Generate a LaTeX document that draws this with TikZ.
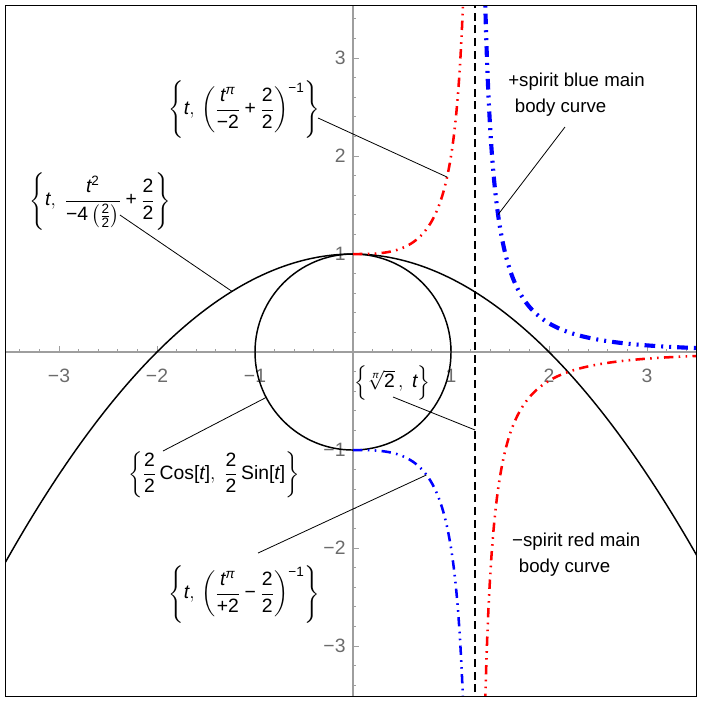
\RequirePackage{fix-cm}
\documentclass[tikz,border=0pt]{standalone}
\usepackage{amsmath}
\usepackage{fontspec}
\setmainfont{Liberation Sans}
\newcommand{\ti}{\text{\itshape t}}
\newcommand{\tpi}{\text{\itshape π}}
\newcommand{\tx}[1]{\text{#1}}
\newcommand{\splus}{\mathbin{\text{+}}}
\newcommand{\sminus}{\mathbin{\text{−}}}
\begin{document}
\begin{tikzpicture}[x=73.5pt,y=73.5pt,
  axisline/.style={draw=black!38, line width=1.1pt},
  tickmark/.style={draw=black!38, line width=0.7pt},
  ticklabel/.style={text=black!58, font=\fontsize{14.5}{17}\selectfont, inner sep=1pt},
  curvelabel/.style={font=\fontsize{14.5}{17}\selectfont, inner sep=0pt},
  spiritlabel/.style={font=\fontsize{14}{19.5}\selectfont, align=left, inner sep=0pt, anchor=west},
  callout/.style={draw=black, line width=0.6pt},
  blackcurve/.style={draw=black, line width=1.1pt},
  redthin/.style={draw=red, line width=1.9pt, dash pattern=on 7pt off 4pt on 1.2pt off 4pt on 1.2pt off 4pt},
  bluethin/.style={draw=blue, line width=1.9pt, dash pattern=on 7pt off 4pt on 1.2pt off 4pt on 1.2pt off 4pt},
  bluethick/.style={draw=blue, line width=3.1pt, dash pattern=on 8pt off 4.5pt on 1.5pt off 4.5pt on 1.5pt off 4.5pt},
  poleline/.style={draw=black, line width=1.3pt, dash pattern=on 6pt off 3.5pt}]
\useasboundingbox (-3.602,-3.571) rectangle (3.561,3.592);
% axes
\draw[axisline] (-3.546,0) -- (3.505,0);
\draw[axisline] (0,-3.515) -- (0,3.536);
\foreach \k in {-3.4,-3.2,...,3.45} {
  \draw[tickmark] (\k,0) -- (\k,0.035);
  \draw[tickmark] (0,\k) -- (0.035,\k);
}
\foreach \k in {-3,-2,-1,1,2,3} {
  \draw[tickmark] (\k,0) -- (\k,0.065);
  \draw[tickmark] (0,\k) -- (0.065,\k);
}
\foreach \k/\s in {-3/−3,-2/−2,-1/−1,1/1,2/2,3/3} {
  \node[ticklabel] (xl\k) at (\k,-0.245) {\s};
  \node[ticklabel, anchor=east] (yl\k) at (-0.06,\k) {\s};
}
% curves
\begin{scope}
\clip (-3.546,-3.515) rectangle (3.505,3.536);
\draw[blackcurve] plot[domain=-3.6:3.6, samples=120, smooth] (\x,{1-(\x)*(\x)/4});
\draw[blackcurve] (0,0) circle (1);
\draw[poleline] (1.2468,-3.6) -- (1.2468,3.6);
\draw[redthin] plot[domain=0.001:1.14, samples=160, smooth] (\x,{1/(1-(\x)^pi/2)});
\draw[redthin] plot[domain=1.33:3.6, samples=260, smooth] (\x,{1/(1-(\x)^pi/2)});
\draw[bluethin] plot[domain=0.001:1.14, samples=160, smooth] (\x,{1/((\x)^pi/2-1)});
\draw[bluethick] plot[domain=1.33:3.6, samples=260, smooth] (\x,{1/((\x)^pi/2-1)});
\end{scope}
% frame
\draw[line width=1.1pt] (-3.546,-3.515) rectangle (3.505,3.536);
% labels
\node[curvelabel] (lred) at (-1.11,2.47) {$\left\{\ti,\,\left(\dfrac{\ti^{\tpi}}{\tx{−2}}\splus\dfrac{\tx{2}}{\tx{2}}\right)^{\tx{−1}}\right\}$};
\node[curvelabel] (lpar) at (-2.58,1.54) {$\left\{\ti,\;\dfrac{\ti^{\tx{2}}}{\tx{−4}\left(\tfrac{\tx{2}}{\tx{2}}\right)}\splus\dfrac{\tx{2}}{\tx{2}}\right\}$};
\node[curvelabel] (lcirc) at (-1.42,-1.25) {$\left\{\dfrac{\tx{2}}{\tx{2}}\,\tx{Cos[}\ti\tx{]},\;\dfrac{\tx{2}}{\tx{2}}\,\tx{Sin[}\ti\tx{]}\right\}$};
\node[curvelabel] (lblue) at (-1.11,-2.47) {$\left\{\ti,\,\left(\dfrac{\ti^{\tpi}}{\tx{+2}}\sminus\dfrac{\tx{2}}{\tx{2}}\right)^{\tx{−1}}\right\}$};
\node[curvelabel] (lroot) at (0.40,-0.316) {$\left\{\sqrt[\tpi]{\tx{2}}\,,\;\ti\right\}$};
\node[spiritlabel] (lbluetxt) at (1.582,2.622) {+spirit blue main\\\hspace*{5pt}body curve};
\node[spiritlabel] (lredtxt) at (1.622,-2.071) {−spirit red main\\\hspace*{5pt}body curve};
% callout coordinates
\coordinate (cred0) at (-0.357,2.388);
\coordinate (cred1) at (0.96,1.785);
\coordinate (cpar0) at (-2.378,1.398);
\coordinate (cpar1) at (-1.235,0.619);
\coordinate (ccirc0) at (-1.939,-1.010);
\coordinate (ccirc1) at (207.6:1);
\coordinate (cblue0) at (-0.969,-2.051);
\coordinate (cblue1) at (0.75,-1.254);
\coordinate (croot0) at (0.408,-0.459);
\coordinate (croot1) at (1.2468,-0.796);
\coordinate (cbt0) at (2.163,2.296);
\coordinate (cbt1) at (1.48,1.402);
\draw[callout] (cred0) -- (cred1);
\draw[callout] (cpar0) -- (cpar1);
\draw[callout] (ccirc0) -- (ccirc1);
\draw[callout] (cblue0) -- (cblue1);
\draw[callout] (croot0) -- (croot1);
\draw[callout] (cbt0) -- (cbt1);
\end{tikzpicture}
\end{document}
